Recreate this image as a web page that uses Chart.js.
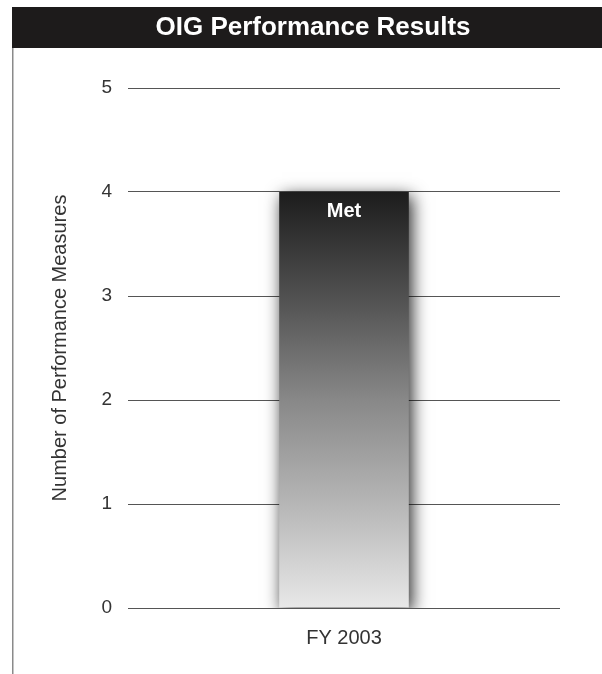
<!DOCTYPE html>
<html>
<head>
<meta charset="utf-8">
<script src="https://cdn.jsdelivr.net/npm/chart.js@4"></script>
<style>
  html, body { margin: 0; padding: 0; background: #fff; }
  #wrap { width: 602px; height: 674px; }
</style>
</head>
<body>
<div id="wrap"><canvas id="myChart" width="602" height="674"></canvas></div>
<script>
var categories = ["FY 2003"];
var metValues = [4];
var barLabels = ["Met"];
var yTicks = [0, 1, 2, 3, 4, 5];
var chartTitle = "OIG Performance Results";

var FONT = "'Liberation Sans', Arial, sans-serif";

// black header box with the title, plus the thin rule down the left side
var frame = {
  id: "frame",
  beforeDraw: function (chart) {
    var ctx = chart.ctx;
    var t = chart.titleBlock;
    ctx.save();
    ctx.fillStyle = "#1d1b1b";
    ctx.fillRect(t.left, t.top, chart.width - t.left, 41);
    ctx.strokeStyle = "#8a8a8a";
    ctx.lineWidth = 1.5;
    ctx.beginPath();
    ctx.moveTo(t.left + 0.75, t.top + 41);
    ctx.lineTo(t.left + 0.75, chart.height);
    ctx.stroke();
    ctx.fillStyle = "#ffffff";
    ctx.font = "bold 26px " + FONT;
    ctx.textAlign = "center";
    ctx.textBaseline = "middle";
    ctx.fillText(chartTitle, (t.left + chart.width) / 2 + 6, t.top + 21);
    ctx.restore();
  },
};

// soft shadow around the bar
var barShadow = {
  id: "barShadow",
  beforeDatasetsDraw: function (chart) {
    var ctx = chart.ctx;
    ctx.save();
    ctx.shadowColor = "rgba(0,0,0,0.85)";
    ctx.shadowBlur = 16;
    ctx.shadowOffsetX = 3;
    ctx.shadowOffsetY = 4;
  },
  afterDatasetsDraw: function (chart) {
    chart.ctx.restore();
  },
};

// "Met" label inside the top of the bar
var barText = {
  id: "barText",
  afterDatasetsDraw: function (chart) {
    var ctx = chart.ctx;
    var meta = chart.getDatasetMeta(0);
    ctx.save();
    ctx.fillStyle = "#ffffff";
    ctx.font = "bold 20px " + FONT;
    ctx.textAlign = "center";
    ctx.textBaseline = "middle";
    meta.data.forEach(function (bar, i) {
      ctx.fillText(barLabels[i], bar.x, bar.y + 19);
    });
    ctx.restore();
  },
};

function barGradient(context) {
  var area = context.chart.chartArea;
  if (!area) return "#777";
  var y = context.chart.scales.y;
  var g = context.chart.ctx.createLinearGradient(0, y.getPixelForValue(metValues[0]), 0, area.bottom);
  g.addColorStop(0, "#1c1c1c");
  g.addColorStop(0.25, "#505050");
  g.addColorStop(0.5, "#888888");
  g.addColorStop(0.75, "#b6b6b6");
  g.addColorStop(1, "#e8e8e8");
  return g;
}

var data = {
  labels: categories,
  datasets: [
    {
      label: "Met",
      data: metValues,
      backgroundColor: barGradient,
      borderWidth: 0,
      barPercentage: 0.3,
      categoryPercentage: 1,
    },
  ],
};

var config = {
  type: "bar",
  data: data,
  plugins: [frame, barShadow, barText],
  options: {
    responsive: false,
    animation: false,
    layout: { padding: { top: 7, left: 12, right: 42, bottom: 0 } },
    plugins: {
      legend: { display: false },
      tooltip: { enabled: false },
      // title text is drawn by the frame plugin; this keeps its space
      title: {
        display: true,
        text: chartTitle,
        color: "rgba(0,0,0,0)",
        font: { family: FONT, size: 26, weight: "bold", lineHeight: 1 },
        padding: { top: 8, bottom: 47 },
      },
    },
    scales: {
      x: {
        grid: { display: false },
        border: { display: false },
        ticks: { color: "#333", font: { family: FONT, size: 20 }, padding: 10 },
        afterFit: function (scale) { scale.height = 66; },
      },
      y: {
        min: 0,
        max: 5,
        afterBuildTicks: function (scale) {
          scale.ticks = yTicks.map(function (v) { return { value: v }; });
        },
        grid: { color: "#555", lineWidth: 1, drawTicks: false },
        border: { display: false },
        ticks: { color: "#333", font: { family: FONT, size: 19 }, padding: 16 },
        title: {
          display: true,
          text: "Number of Performance Measures",
          color: "#333",
          font: { family: FONT, size: 20 },
          padding: { top: 36, bottom: 0 },
        },
        afterFit: function (scale) { scale.width = 116; },
      },
    },
  },
};

var myChart = new Chart(document.getElementById("myChart"), config);
</script>
</body>
</html>
